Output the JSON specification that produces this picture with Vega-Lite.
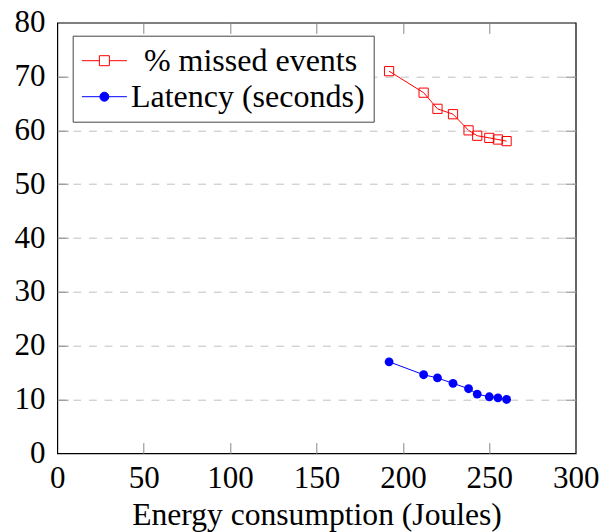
{
  "$schema": "https://vega.github.io/schema/vega-lite/v6.json",
  "width": 518.4,
  "height": 430.6,
  "autosize": {"type": "none"},
  "padding": {"left": 57.3, "top": 22.7, "right": 24.3, "bottom": 78.7},
  "background": "white",
  "config": {
    "view": {"stroke": "black", "strokeWidth": 1.2},
    "font": "Liberation Serif",
    "legend": {"labelFont": "Liberation Serif", "labelFontSize": 32, "labelColor": "black"}
  },
  "data": {
    "values": [
      {"energy": 192, "value": 71, "series": "% missed events"},
      {"energy": 212, "value": 67, "series": "% missed events"},
      {"energy": 220, "value": 64, "series": "% missed events"},
      {"energy": 229, "value": 63, "series": "% missed events"},
      {"energy": 238, "value": 60, "series": "% missed events"},
      {"energy": 243, "value": 59, "series": "% missed events"},
      {"energy": 250, "value": 58.6, "series": "% missed events"},
      {"energy": 255, "value": 58.3, "series": "% missed events"},
      {"energy": 260, "value": 58, "series": "% missed events"},
      {"energy": 192, "value": 17, "series": "Latency (seconds)"},
      {"energy": 212, "value": 14.6, "series": "Latency (seconds)"},
      {"energy": 220, "value": 14, "series": "Latency (seconds)"},
      {"energy": 229, "value": 13, "series": "Latency (seconds)"},
      {"energy": 238, "value": 12, "series": "Latency (seconds)"},
      {"energy": 243, "value": 11, "series": "Latency (seconds)"},
      {"energy": 250, "value": 10.5, "series": "Latency (seconds)"},
      {"energy": 255, "value": 10.3, "series": "Latency (seconds)"},
      {"energy": 260, "value": 10, "series": "Latency (seconds)"}
    ]
  },
  "layer": [
    {
      "mark": {"type": "line", "strokeWidth": 1},
      "encoding": {
        "x": {
          "field": "energy", "type": "quantitative",
          "scale": {"domain": [0, 300], "nice": false, "zero": false},
          "axis": {
            "orient": "bottom",
            "values": [0, 50, 100, 150, 200, 250, 300],
            "grid": false, "domain": false,
            "tickSize": -10.7, "tickColor": "#888888", "tickWidth": 1,
            "tickOpacity": {"condition": {"test": "datum.value === 0 || datum.value === 300", "value": 0}, "value": 1},
            "labelFont": "Liberation Serif", "labelFontSize": 31, "labelColor": "black",
            "labelPadding": 20.6, "labelFlush": false, "labelOverlap": false, "labelAngle": 0,
            "title": "Energy consumption (Joules)",
            "titleFont": "Liberation Serif", "titleFontSize": 31.6, "titleFontWeight": "normal",
            "titleColor": "black", "titleBaseline": "alphabetic", "titleY": 71.5
          }
        },
        "y": {
          "field": "value", "type": "quantitative",
          "scale": {"domain": [0, 80], "nice": false, "zero": false},
          "axis": {
            "orient": "left",
            "values": [0, 10, 20, 30, 40, 50, 60, 70, 80],
            "grid": true, "gridColor": "#c0c0c0", "gridDash": [7.8, 7.8], "gridWidth": 1,
            "gridOpacity": {"condition": {"test": "datum.value === 0 || datum.value === 80", "value": 0}, "value": 1},
            "domain": false,
            "tickSize": -10.7, "tickColor": "#888888", "tickWidth": 1,
            "tickOpacity": {"condition": {"test": "datum.value === 0 || datum.value === 80", "value": 0}, "value": 1},
            "labelFont": "Liberation Serif", "labelFontSize": 31, "labelColor": "black",
            "labelPadding": 23, "labelFlush": false, "labelOverlap": false,
            "title": null
          }
        },
        "color": {
          "field": "series", "type": "nominal",
          "scale": {"domain": ["% missed events", "Latency (seconds)"], "range": ["#ff0000", "#0000ff"]},
          "legend": {
            "orient": "none", "legendX": 15.4, "legendY": 13, "direction": "vertical",
            "title": null,
            "labelFont": "Liberation Serif", "labelFontSize": 32, "labelColor": "black", "labelLimit": 0,
            "symbolSize": 400, "symbolStrokeWidth": 1, "symbolOffset": 6.7, "labelOffset": 10.5,
            "padding": 9, "rowPadding": 4,
            "strokeColor": "#444444", "fillColor": "white",
            "encode": {
              "labels": {
                "update": {
                  "dx": {"signal": "datum.value === '% missed events' ? 13 : 0"}
                }
              },
              "symbols": {
                "update": {
                  "shape": {"signal": "datum.value === 'Latency (seconds)' ? 'M-2.25,0H2.25M-0.45,0A0.45,0.45,0,1,1,0.45,0A0.45,0.45,0,1,1,-0.45,0Z' : 'M-2.25,0H-0.5M0.5,0H2.25M-0.5,-0.5H0.5V0.5H-0.5Z'"},
                  "fill": {"signal": "datum.value === 'Latency (seconds)' ? '#0000ff' : '#ffffff'"},
                  "strokeWidth": {"value": 1},
                  "opacity": {"value": 1}
                }
              }
            }
          }
        }
      }
    },
    {
      "transform": [{"filter": "datum.series === '% missed events'"}],
      "mark": {"type": "point", "shape": "square", "filled": false, "color": "#ff0000", "size": 85, "strokeWidth": 1, "opacity": 1},
      "encoding": {
        "x": {
          "field": "energy", "type": "quantitative",
          "axis": {
            "orient": "top", "values": [0, 50, 100, 150, 200, 250, 300],
            "grid": false, "domain": false, "labels": false, "title": null,
            "tickSize": -10.7, "tickColor": "#888888", "tickWidth": 1,
            "tickOpacity": {"condition": {"test": "datum.value === 0 || datum.value === 300", "value": 0}, "value": 1}
          }
        },
        "y": {
          "field": "value", "type": "quantitative",
          "axis": {
            "orient": "right", "values": [0, 10, 20, 30, 40, 50, 60, 70, 80],
            "grid": false, "domain": false, "labels": false, "title": null,
            "tickSize": -10.7, "tickColor": "#888888", "tickWidth": 1,
            "tickOpacity": {"condition": {"test": "datum.value === 0 || datum.value === 80", "value": 0}, "value": 1}
          }
        }
      }
    },
    {
      "transform": [{"filter": "datum.series === 'Latency (seconds)'"}],
      "mark": {"type": "point", "shape": "circle", "filled": true, "color": "#0000ff", "size": 78, "opacity": 1},
      "encoding": {
        "x": {"field": "energy", "type": "quantitative", "axis": null},
        "y": {"field": "value", "type": "quantitative", "axis": null}
      }
    }
  ],
  "resolve": {"axis": {"x": "independent", "y": "independent"}}
}
